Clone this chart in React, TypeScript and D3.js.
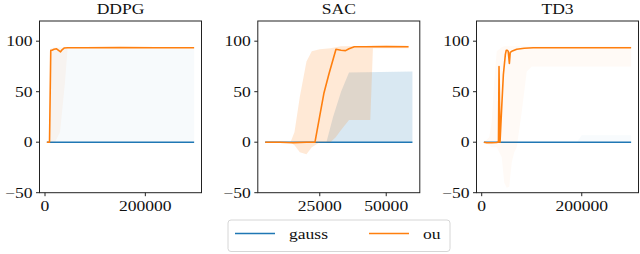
import * as d3 from 'd3';

// y axis shared by all panels
const yTicks = [-50, 0, 50, 100];
const seriesNames = ['gauss', 'ou'];

// DDPG
const ddpgGaussX = [3700, 297300];
const ddpgGaussY = [0, 0];
const ddpgGaussBandX = [3700, 9000, 13000, 297300];
const ddpgGaussLo = [0, 0, 0, 0];
const ddpgGaussHi = [0, 0, 93, 93];
const ddpgOuX = [3700, 9000, 11500, 14000, 18000, 23000, 27000, 31000, 34000, 38000, 45000, 80000, 150000, 220000, 297300];
const ddpgOuY = [0, 0, 91, 91, 92, 92.5, 91, 89.5, 91.5, 93.2, 93.5, 93.5, 93.6, 93.5, 93.5];
const ddpgOuBandX = [3700, 9000, 11500, 20000, 30000, 40000, 45000, 297300];
const ddpgOuLo = [0, 0, 0, 0, 10, 60, 93, 93];
const ddpgOuHi = [0, 0, 93, 94, 94, 94, 94, 94];
const ddpgXTicks = [0, 200000];

// SAC
const sacGaussX = [4460, 59860];
const sacGaussY = [0, 0];
const sacGaussBandX = [4460, 27500, 30000, 33000, 36000, 59860];
const sacGaussLo = [0, 0, 0, 0, 0, 0];
const sacGaussHi = [0, 0, 25, 50, 69, 70];
const sacOuX = [4460, 10000, 15000, 20000, 23200, 25000, 26600, 28500, 31100, 33000, 34700, 36000, 38000, 42000, 50000, 58400];
const sacOuY = [0, 0, -0.5, 0, 0, 26, 49, 68, 92, 91, 90.7, 92.5, 94.5, 94.5, 94.8, 94.5];
const sacOuBandX = [4460, 14000, 15500, 17500, 20000, 22000, 25000, 29000, 31000, 33000, 36000, 44000, 45000, 58400];
const sacOuLo = [0, 0, -3, -10, -12, -5, 0, 0, 5, 12, 22, 22, 93, 93];
const sacOuHi = [0, 0, 10, 45, 80, 90, 92, 93, 94, 95, 95, 95, 95.5, 95.5];
const sacXTicks = [25000, 50000];

// TD3
const td3GaussX = [4300, 298700];
const td3GaussY = [0, 0];
const td3GaussBandX = [4300, 190000, 200000, 298700];
const td3GaussLo = [0, 0, 0, 0];
const td3GaussHi = [0, 0, 7, 7];
const td3OuX = [4300, 10000, 20000, 30000, 31300, 33500, 34600, 35500, 36600, 40000, 43300, 47300, 49000, 51000, 53000, 55300, 57000, 60000, 70000, 85000, 103000, 150000, 200000, 250000, 298700];
const td3OuY = [0, -0.5, -0.5, -0.3, 0, 0, 75, 40, 0, 35, 67, 87, 91, 91, 90, 78, 89, 90, 92, 93, 93.5, 93.5, 93.5, 93.5, 93.5];
const td3OuBandX = [4300, 15000, 20000, 25000, 30000, 35000, 40000, 45000, 50000, 55000, 60000, 65000, 70000, 80000, 90000, 100000, 298700];
const td3OuLo = [0, -3, -5, -5, -5, -10, -15, -40, -45, -44, -20, -10, -5, 30, 70, 75, 75];
const td3OuHi = [0, 5, 20, 60, 90, 92, 94, 95, 95, 95, 95, 95, 95, 95, 95, 95, 95];
const td3XTicks = [0, 200000];

const BLUE = '#1f77b4';
const ORANGE = '#ff7f0e';
const FONT = 'Liberation Serif, serif';
const STRETCH = 1.17;

const W = 640;
const H = 254;
const top = 21;
const bottom = 192.7;
const panelW = 162;

const panels = [
  {
    title: 'DDPG', left: 39.5, xTicks: ddpgXTicks,
    series: [
      { x: ddpgGaussX, y: ddpgGaussY, bx: ddpgGaussBandX, lo: ddpgGaussLo, hi: ddpgGaussHi, color: BLUE, alpha: 0.035 },
      { x: ddpgOuX, y: ddpgOuY, bx: ddpgOuBandX, lo: ddpgOuLo, hi: ddpgOuHi, color: ORANGE, alpha: 0.05 },
    ],
  },
  {
    title: 'SAC', left: 257.8, xTicks: sacXTicks,
    series: [
      { x: sacGaussX, y: sacGaussY, bx: sacGaussBandX, lo: sacGaussLo, hi: sacGaussHi, color: BLUE, alpha: 0.17 },
      { x: sacOuX, y: sacOuY, bx: sacOuBandX, lo: sacOuLo, hi: sacOuHi, color: ORANGE, alpha: 0.17 },
    ],
  },
  {
    title: 'TD3', left: 476.5, xTicks: td3XTicks,
    series: [
      { x: td3GaussX, y: td3GaussY, bx: td3GaussBandX, lo: td3GaussLo, hi: td3GaussHi, color: BLUE, alpha: 0.03 },
      { x: td3OuX, y: td3OuY, bx: td3OuBandX, lo: td3OuLo, hi: td3OuHi, color: ORANGE, alpha: 0.04 },
    ],
  },
];

// serif text, widened a little to match the reference's glyph widths
function Label({ x, y, anchor, size, children, dy }: any) {
  return (
    <text
      transform={`translate(${x},${y}) scale(${STRETCH},1)`}
      dy={dy} textAnchor={anchor} fontFamily={FONT} fontSize={size} fill="#111"
    >
      {children}
    </text>
  );
}

function Panel({ p }: { p: any }) {
  const allX = p.series.flatMap((s: any) => s.x);
  const [x0, x1] = d3.extent(allX) as [number, number];
  const pad = (x1 - x0) * 0.05;
  const x = d3.scaleLinear().domain([x0 - pad, x1 + pad]).range([p.left, p.left + panelW]);
  const y = d3.scaleLinear().domain([-50, 120]).range([bottom, top]);

  const line = d3.line<[number, number]>().x(d => x(d[0])).y(d => y(d[1]));
  const area = d3.area<[number, number, number]>()
    .x(d => x(d[0])).y0(d => y(d[1])).y1(d => y(d[2]));

  const clipId = 'clip-' + p.title;

  return (
    <g>
      <clipPath id={clipId}>
        <rect x={p.left} y={top} width={panelW} height={bottom - top} />
      </clipPath>
      <g clipPath={`url(#${clipId})`}>
        {p.series.map((s: any, i: number) => (
          <g key={i}>
            <path
              d={area(s.bx.map((v: number, j: number) => [v, s.lo[j], s.hi[j]])) || ''}
              fill={s.color} fillOpacity={s.alpha} stroke="none"
            />
            <path
              d={line(s.x.map((v: number, j: number) => [v, s.y[j]])) || ''}
              fill="none" stroke={s.color} strokeWidth={1.6} strokeLinejoin="round"
            />
          </g>
        ))}
      </g>
      <rect x={p.left} y={top} width={panelW} height={bottom - top} fill="none" stroke="#222" strokeWidth={1} />
      {yTicks.map(t => (
        <g key={t}>
          <line x1={p.left - 3.5} x2={p.left} y1={y(t)} y2={y(t)} stroke="#222" />
          <Label x={p.left - 7} y={y(t)} dy="0.34em" anchor="end" size={15}>
            {t < 0 ? '\u2212' + Math.abs(t) : t}
          </Label>
        </g>
      ))}
      {p.xTicks.map((t: number) => (
        <g key={t}>
          <line x1={x(t)} x2={x(t)} y1={bottom} y2={bottom + 3.5} stroke="#222" />
          <Label x={x(t)} y={bottom + 18} anchor="middle" size={15}>{t}</Label>
        </g>
      ))}
      <Label x={p.left + panelW / 2} y={14} anchor="middle" size={15}>{p.title}</Label>
    </g>
  );
}

export default function App() {
  const legendColors = [BLUE, ORANGE];
  return (
    <svg width={W} height={H} style={{ position: 'absolute', left: 0, top: 0, background: '#fff' }}>
      {panels.map(p => <Panel key={p.title} p={p} />)}
      <rect x={228} y={220} width={222} height={31.5} rx={3} fill="#fff" stroke="#d6d6d6" />
      {seriesNames.map((n, i) => (
        <g key={n}>
          <line x1={235 + i * 134} x2={275 + i * 134} y1={233.5} y2={233.5} stroke={legendColors[i]} strokeWidth={1.6} />
          <Label x={289 + i * 134} y={238.5} anchor="start" size={15}>{n}</Label>
        </g>
      ))}
    </svg>
  );
}
